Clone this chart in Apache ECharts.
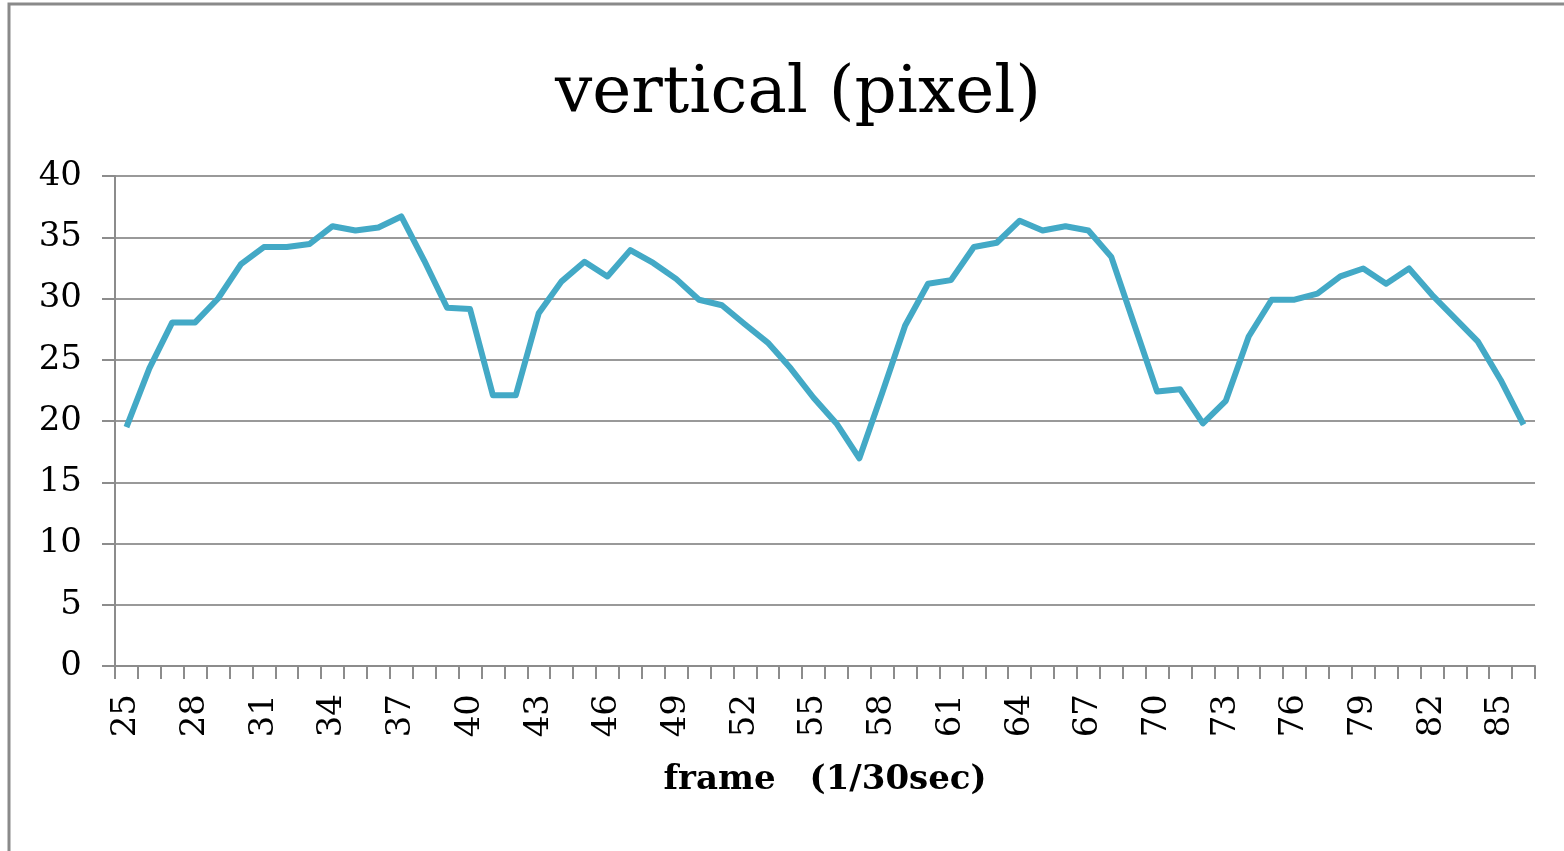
<!DOCTYPE html>
<html>
<head>
<meta charset="utf-8">
<script src="https://cdn.jsdelivr.net/npm/echarts@6/dist/echarts.min.js"></script>
<style>
  html, body { margin: 0; padding: 0; background: #fff; }
  #chart { width: 1564px; height: 851px; }
</style>
</head>
<body>
<div id="chart"></div>
<script>
// Frame numbers (1/30 sec steps)
const frames = [];
for (let f = 25; f <= 86; f++) frames.push(String(f));

// Vertical position per frame, in pixels
const vertical = [
  19.5, 24.3, 28.05, 28.05, 30.0, 32.8, 34.2, 34.2, 34.45, 35.9,
  35.55, 35.8, 36.7, 33.1, 29.25, 29.15, 22.1, 22.1, 28.8, 31.4,
  33.0, 31.8, 33.95, 32.9, 31.6, 29.9, 29.45, 27.9, 26.4, 24.3,
  21.9, 19.8, 16.95, 22.3, 27.8, 31.2, 31.5, 34.2, 34.55, 36.35,
  35.55, 35.9, 35.55, 33.4, 27.9, 22.4, 22.6, 19.8, 21.65, 26.9,
  29.9, 29.9, 30.4, 31.8, 32.45, 31.2, 32.45, 30.3, 28.4, 26.5,
  23.35, 19.7
];

const yTicks = { min: 0, max: 40, interval: 5 };

const serif = '"DejaVu Serif", "Liberation Serif", serif';
const axisGrey = '#8c8c8c';

const chart = echarts.init(document.getElementById('chart'));
chart.setOption({
  backgroundColor: '#ffffff',
  animation: false,
  title: {
    text: 'vertical (pixel)',
    left: 793,
    textAlign: 'center',
    top: 57,
    textStyle: { fontFamily: serif, fontSize: 66, fontWeight: 'normal', color: '#000' }
  },
  // outer chart-area frame
  graphic: [{
    type: 'polyline',
    shape: { points: [[9, 851], [9, 4], [1564, 4]] },
    style: { stroke: '#8a8a8a', lineWidth: 3, fill: null },
    silent: true
  }],
  grid: { left: 115, right: 29, top: 176, bottom: 185 },
  xAxis: {
    type: 'category',
    data: frames,
    boundaryGap: true,
    name: 'frame\u3000(1/30sec)',
    nameLocation: 'middle',
    nameGap: 97,
    nameTextStyle: { fontFamily: serif, fontSize: 34, fontWeight: 'bold', color: '#000' },
    axisLine: { lineStyle: { color: axisGrey, width: 2 } },
    axisTick: { show: true, interval: 0, length: 13, lineStyle: { color: axisGrey, width: 2 } },
    axisLabel: {
      interval: 2,
      rotate: 90,
      margin: 28,
      fontFamily: serif,
      fontSize: 34,
      color: '#000'
    },
    splitLine: { show: false }
  },
  yAxis: {
    type: 'value',
    min: yTicks.min,
    max: yTicks.max,
    interval: yTicks.interval,
    axisLine: { show: true, lineStyle: { color: axisGrey, width: 2 } },
    axisTick: { show: true, length: 13, lineStyle: { color: axisGrey, width: 2 } },
    axisLabel: { fontFamily: serif, fontSize: 34, color: '#000', margin: 33 },
    splitLine: { show: true, lineStyle: { color: '#999999', width: 2 } }
  },
  series: [{
    type: 'line',
    data: vertical,
    showSymbol: false,
    symbol: 'none',
    lineStyle: { color: '#43a9c6', width: 6, join: 'round' },
    itemStyle: { color: '#43a9c6' }
  }]
});
</script>
</body>
</html>
